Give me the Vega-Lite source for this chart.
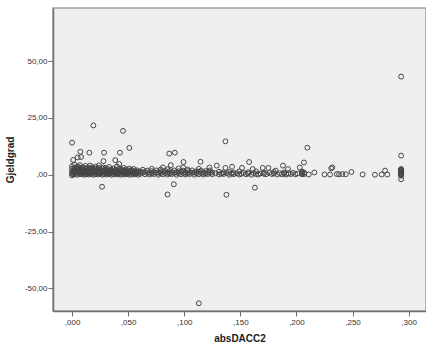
{
  "$schema": "https://vega.github.io/schema/vega-lite/v6.json",
  "width": 373,
  "height": 303,
  "autosize": "none",
  "padding": {"left": 53, "top": 8, "right": 0, "bottom": 36},
  "background": "white",
  "config": {
    "view": {"fill": "#efefef", "stroke": "#a0a0a0", "strokeWidth": 1.5},
    "axis": {
      "labelFont": "Liberation Sans", "labelFontSize": 8, "labelColor": "#333333",
      "titleFont": "Liberation Sans", "titleFontSize": 10, "titleFontWeight": "bold", "titleColor": "#222222",
      "domainColor": "#707070", "domainWidth": 1.5, "tickColor": "#707070", "tickSize": 5, "tickWidth": 1,
      "grid": false
    }
  },
  "data": {"values": [
    {"x":0.2933,"y":43.2},{"x":0.2933,"y":8.4},{"x":0.2933,"y":-2.0},
    {"x":0.1367,"y":14.7},{"x":0.2097,"y":11.9},{"x":0.2067,"y":5.4},{"x":0.1578,"y":5.6},{"x":0.1376,"y":-8.8},{"x":0.163,"y":-5.7},{"x":0.0267,"y":-5.3},{"x":0.0851,"y":-8.7},{"x":0.0907,"y":-4.2},{"x":0.113,"y":-56.6},
    {"x":0.0,"y":14.1},{"x":0.019,"y":21.7},{"x":0.0454,"y":19.3},{"x":0.051,"y":11.8},{"x":0.0074,"y":10.1},{"x":0.0154,"y":9.7},{"x":0.0285,"y":9.7},{"x":0.0427,"y":9.7},{"x":0.0866,"y":9.3},{"x":0.0916,"y":9.7},{"x":0.001,"y":6.5},{"x":0.005,"y":7.6},{"x":0.008,"y":7.8},{"x":0.028,"y":6.0},{"x":0.0385,"y":6.4},{"x":0.042,"y":4.7},{"x":0.088,"y":4.2},{"x":0.0993,"y":5.6},{"x":0.1145,"y":5.7},{"x":0.129,"y":4.0},{"x":0.1225,"y":3.2},{"x":0.081,"y":3.2},{"x":0.099,"y":3.2},
    {"x":0.1367,"y":3.0},{"x":0.1426,"y":3.5},{"x":0.1515,"y":3.0},{"x":0.161,"y":2.5},{"x":0.170,"y":3.0},{"x":0.175,"y":3.0},{"x":0.1815,"y":1.8},{"x":0.188,"y":4.0},{"x":0.1925,"y":2.5},{"x":0.203,"y":3.2},{"x":0.216,"y":1.0},{"x":0.225,"y":0.1},{"x":0.230,"y":0.1},{"x":0.231,"y":2.8},{"x":0.232,"y":3.2},{"x":0.236,"y":0.3},{"x":0.238,"y":0.2},{"x":0.241,"y":0.3},{"x":0.244,"y":0.2},{"x":0.249,"y":1.2},{"x":0.259,"y":0.1},{"x":0.270,"y":0.0},{"x":0.276,"y":0.1},{"x":0.279,"y":1.8},{"x":0.281,"y":0.1},
    {"x":0.2933,"y":-0.4},{"x":0.2933,"y":-0.1},{"x":0.2933,"y":0.2},{"x":0.2933,"y":0.5},{"x":0.2933,"y":0.8},{"x":0.2933,"y":1.1},{"x":0.2933,"y":1.4},{"x":0.2933,"y":1.7},{"x":0.2933,"y":2.0},{"x":0.2933,"y":2.3},{"x":0.2933,"y":2.5},
    {"x":0.000,"y":0.5},{"x":0.000,"y":1.5},{"x":0.000,"y":2.6},{"x":0.000,"y":3.8},{"x":0.000,"y":-0.3},
    {"x":0.001,"y":1.0},{"x":0.001,"y":2.0},{"x":0.001,"y":0.2},
    {"x":0.002,"y":0.8},{"x":0.002,"y":1.8},{"x":0.002,"y":2.9},{"x":0.002,"y":4.5},
    {"x":0.003,"y":0.1},{"x":0.003,"y":1.3},{"x":0.003,"y":2.4},
    {"x":0.004,"y":0.6},{"x":0.004,"y":1.6},{"x":0.004,"y":3.2},
    {"x":0.005,"y":0.0},{"x":0.005,"y":1.1},{"x":0.005,"y":2.2},{"x":0.005,"y":3.6},
    {"x":0.006,"y":0.7},{"x":0.006,"y":1.9},{"x":0.006,"y":2.8},
    {"x":0.007,"y":0.3},{"x":0.007,"y":1.4},{"x":0.007,"y":2.5},{"x":0.007,"y":4.2},
    {"x":0.008,"y":0.9},{"x":0.008,"y":2.0},{"x":0.008,"y":3.1},
    {"x":0.009,"y":0.2},{"x":0.009,"y":1.2},{"x":0.009,"y":2.3},
    {"x":0.010,"y":0.6},{"x":0.010,"y":1.7},{"x":0.010,"y":3.3},
    {"x":0.011,"y":0.0},{"x":0.011,"y":1.0},{"x":0.011,"y":2.1},
    {"x":0.012,"y":0.5},{"x":0.012,"y":1.5},{"x":0.012,"y":2.7},{"x":0.012,"y":3.9},
    {"x":0.013,"y":0.2},{"x":0.013,"y":1.3},{"x":0.013,"y":2.4},
    {"x":0.014,"y":0.8},{"x":0.014,"y":1.8},{"x":0.014,"y":3.0},
    {"x":0.015,"y":0.1},{"x":0.015,"y":1.1},{"x":0.015,"y":2.2},
    {"x":0.016,"y":0.6},{"x":0.016,"y":1.6},{"x":0.016,"y":2.9},{"x":0.016,"y":4.0},
    {"x":0.017,"y":0.3},{"x":0.017,"y":1.4},{"x":0.017,"y":2.5},
    {"x":0.018,"y":0.9},{"x":0.018,"y":2.0},{"x":0.018,"y":3.3},
    {"x":0.019,"y":0.0},{"x":0.019,"y":1.2},{"x":0.019,"y":2.3},
    {"x":0.020,"y":0.5},{"x":0.020,"y":1.6},{"x":0.020,"y":2.8},
    {"x":0.021,"y":0.2},{"x":0.021,"y":1.3},{"x":0.021,"y":3.5},
    {"x":0.022,"y":0.7},{"x":0.022,"y":1.8},{"x":0.022,"y":2.6},
    {"x":0.023,"y":0.1},{"x":0.023,"y":1.0},{"x":0.023,"y":2.2},
    {"x":0.024,"y":0.6},{"x":0.024,"y":1.5},{"x":0.024,"y":3.0},{"x":0.024,"y":4.1},
    {"x":0.025,"y":0.3},{"x":0.025,"y":1.4},{"x":0.025,"y":2.4},
    {"x":0.026,"y":0.8},{"x":0.026,"y":1.9},
    {"x":0.027,"y":0.0},{"x":0.027,"y":1.1},{"x":0.027,"y":2.7},
    {"x":0.028,"y":0.5},{"x":0.028,"y":1.6},{"x":0.028,"y":3.2},
    {"x":0.029,"y":0.2},{"x":0.029,"y":1.2},{"x":0.029,"y":2.1},
    {"x":0.030,"y":0.7},{"x":0.030,"y":1.8},{"x":0.030,"y":2.9},
    {"x":0.031,"y":0.1},{"x":0.031,"y":1.0},
    {"x":0.032,"y":0.6},{"x":0.032,"y":1.5},{"x":0.032,"y":2.5},
    {"x":0.033,"y":0.3},{"x":0.033,"y":1.3},{"x":0.033,"y":3.4},
    {"x":0.034,"y":0.9},{"x":0.034,"y":2.0},
    {"x":0.035,"y":0.0},{"x":0.035,"y":1.1},{"x":0.035,"y":2.3},
    {"x":0.036,"y":0.5},{"x":0.036,"y":1.6},
    {"x":0.037,"y":0.2},{"x":0.037,"y":1.2},{"x":0.037,"y":2.8},
    {"x":0.038,"y":0.7},{"x":0.038,"y":1.7},
    {"x":0.039,"y":0.1},{"x":0.039,"y":1.0},{"x":0.039,"y":2.2},
    {"x":0.040,"y":0.6},{"x":0.040,"y":1.5},{"x":0.040,"y":3.6},
    {"x":0.041,"y":0.3},{"x":0.041,"y":1.3},
    {"x":0.042,"y":0.8},{"x":0.042,"y":1.9},{"x":0.042,"y":2.6},
    {"x":0.043,"y":0.0},{"x":0.043,"y":1.1},
    {"x":0.044,"y":0.5},{"x":0.044,"y":1.6},{"x":0.044,"y":2.3},
    {"x":0.045,"y":0.2},{"x":0.045,"y":1.2},
    {"x":0.046,"y":0.7},{"x":0.046,"y":1.8},{"x":0.046,"y":3.0},
    {"x":0.047,"y":0.1},{"x":0.047,"y":1.0},
    {"x":0.048,"y":0.6},{"x":0.048,"y":1.5},{"x":0.048,"y":2.4},
    {"x":0.049,"y":0.3},{"x":0.049,"y":1.3},
    {"x":0.050,"y":0.8},{"x":0.050,"y":1.9},
    {"x":0.051,"y":0.0},{"x":0.051,"y":1.1},{"x":0.051,"y":2.7},
    {"x":0.052,"y":0.5},{"x":0.052,"y":1.6},
    {"x":0.053,"y":0.2},{"x":0.053,"y":1.2},{"x":0.053,"y":2.1},
    {"x":0.054,"y":0.7},{"x":0.054,"y":1.7},
    {"x":0.055,"y":0.1},{"x":0.055,"y":1.0},{"x":0.055,"y":2.5},
    {"x":0.056,"y":0.6},{"x":0.056,"y":1.5},
    {"x":0.057,"y":0.3},{"x":0.057,"y":1.3},
    {"x":0.058,"y":0.8},{"x":0.058,"y":1.9},
    {"x":0.059,"y":0.0},{"x":0.059,"y":1.1},
    {"x":0.061,"y":0.4},{"x":0.061,"y":1.5},
    {"x":0.063,"y":0.9},{"x":0.063,"y":2.2},
    {"x":0.065,"y":0.2},{"x":0.065,"y":1.3},
    {"x":0.067,"y":0.7},{"x":0.067,"y":1.8},
    {"x":0.069,"y":0.1},{"x":0.069,"y":1.1},
    {"x":0.071,"y":0.5},{"x":0.071,"y":1.6},{"x":0.071,"y":2.6},
    {"x":0.073,"y":0.3},{"x":0.073,"y":1.2},
    {"x":0.075,"y":0.8},{"x":0.075,"y":1.9},
    {"x":0.077,"y":0.0},{"x":0.077,"y":1.0},
    {"x":0.079,"y":0.6},{"x":0.079,"y":1.5},{"x":0.079,"y":2.3},
    {"x":0.081,"y":0.2},{"x":0.081,"y":1.3},
    {"x":0.083,"y":0.7},{"x":0.083,"y":1.7},
    {"x":0.085,"y":0.1},{"x":0.085,"y":1.0},{"x":0.085,"y":2.4},
    {"x":0.087,"y":0.5},{"x":0.087,"y":1.6},
    {"x":0.089,"y":0.3},{"x":0.089,"y":1.2},
    {"x":0.091,"y":0.8},{"x":0.091,"y":1.9},
    {"x":0.093,"y":0.0},{"x":0.093,"y":1.1},
    {"x":0.095,"y":0.6},{"x":0.095,"y":1.5},{"x":0.095,"y":2.8},
    {"x":0.097,"y":0.2},{"x":0.097,"y":1.3},
    {"x":0.099,"y":0.7},{"x":0.099,"y":1.8},
    {"x":0.101,"y":0.1},{"x":0.101,"y":1.0},
    {"x":0.103,"y":0.5},{"x":0.103,"y":1.6},{"x":0.103,"y":2.3},
    {"x":0.105,"y":0.3},{"x":0.105,"y":1.2},
    {"x":0.107,"y":0.8},{"x":0.107,"y":1.9},
    {"x":0.109,"y":0.0},{"x":0.109,"y":1.1},
    {"x":0.111,"y":0.6},{"x":0.111,"y":1.5},
    {"x":0.113,"y":0.2},{"x":0.113,"y":1.3},{"x":0.113,"y":2.6},
    {"x":0.115,"y":0.7},{"x":0.115,"y":1.8},
    {"x":0.117,"y":0.1},{"x":0.117,"y":1.0},
    {"x":0.119,"y":0.5},{"x":0.119,"y":1.6},
    {"x":0.121,"y":0.3},{"x":0.121,"y":1.2},
    {"x":0.123,"y":0.8},{"x":0.123,"y":1.9},
    {"x":0.125,"y":0.2},{"x":0.125,"y":1.0},
    {"x":0.128,"y":0.6},
    {"x":0.131,"y":0.1},{"x":0.131,"y":1.3},
    {"x":0.133,"y":0.5},
    {"x":0.135,"y":0.3},{"x":0.135,"y":1.0},
    {"x":0.138,"y":0.7},
    {"x":0.140,"y":0.0},{"x":0.140,"y":1.2},
    {"x":0.142,"y":0.5},
    {"x":0.144,"y":0.2},{"x":0.144,"y":0.9},
    {"x":0.147,"y":0.6},
    {"x":0.149,"y":0.1},{"x":0.149,"y":1.4},
    {"x":0.151,"y":0.4},
    {"x":0.153,"y":0.8},
    {"x":0.155,"y":0.2},
    {"x":0.157,"y":0.5},{"x":0.157,"y":1.1},
    {"x":0.160,"y":0.0},
    {"x":0.162,"y":0.7},
    {"x":0.164,"y":0.3},{"x":0.164,"y":1.5},
    {"x":0.166,"y":0.1},
    {"x":0.168,"y":0.6},
    {"x":0.171,"y":0.4},{"x":0.171,"y":1.0},
    {"x":0.173,"y":0.2},
    {"x":0.176,"y":0.8},
    {"x":0.178,"y":0.3},
    {"x":0.180,"y":0.5},{"x":0.180,"y":1.2},
    {"x":0.183,"y":0.1},
    {"x":0.185,"y":0.7},
    {"x":0.187,"y":0.2},
    {"x":0.189,"y":0.4},{"x":0.189,"y":1.0},
    {"x":0.191,"y":0.1},
    {"x":0.193,"y":0.6},
    {"x":0.195,"y":0.3},
    {"x":0.197,"y":0.8},
    {"x":0.199,"y":0.2},
    {"x":0.201,"y":0.5},
    {"x":0.205,"y":0.2},{"x":0.205,"y":0.6},{"x":0.205,"y":1.0},{"x":0.205,"y":1.4},
    {"x":0.207,"y":0.3},{"x":0.207,"y":0.9},
    {"x":0.211,"y":0.1}
  ]},
  "mark": {"type": "point", "shape": "circle", "filled": false, "size": 24, "stroke": "#454545", "strokeWidth": 1, "opacity": 1},
  "encoding": {
    "x": {
      "field": "x", "type": "quantitative", "title": "absDACC2",
      "scale": {"domain": [-0.017, 0.3155], "nice": false, "zero": false},
      "axis": {"values": [0, 0.05, 0.1, 0.15, 0.2, 0.25, 0.3], "labelExpr": "replace(format(datum.value,'.3f'),'0.',',')", "labelPadding": 2, "titlePadding": 7}
    },
    "y": {
      "field": "y", "type": "quantitative", "title": "Gjeldgrad",
      "scale": {"domain": [-60, 73.4], "nice": false, "zero": false},
      "axis": {"values": [-50, -25, 0, 25, 50], "labelExpr": "datum.value == 0 ? ',00' : (datum.value < 0 ? '-' : '') + format(abs(datum.value),'.0f') + ',00'", "labelPadding": 1, "titlePadding": 9}
    }
  }
}
